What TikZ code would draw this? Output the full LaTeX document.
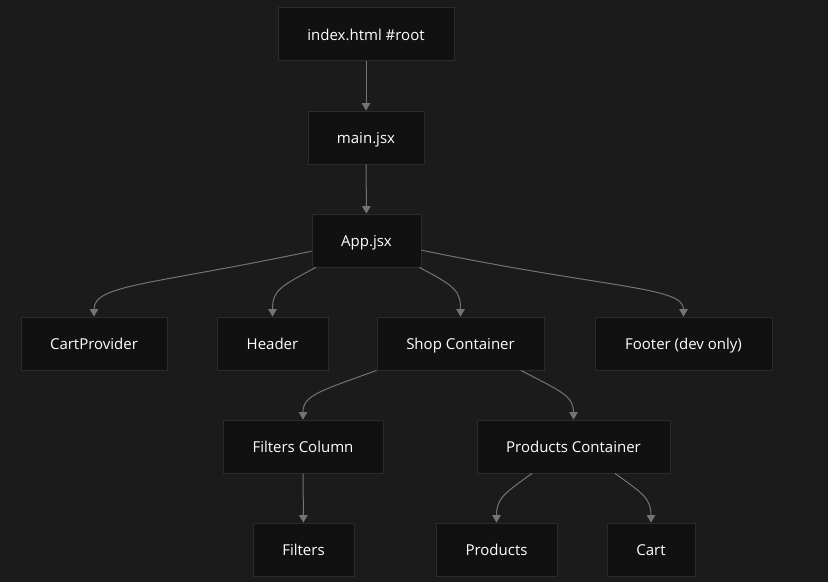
\documentclass[tikz,border=0pt]{standalone}
\usepackage{fontspec}
\setmainfont{Open Sans}
\usetikzlibrary{arrows.meta}
\definecolor{fond}{HTML}{1B1B1B}
\definecolor{remplissage}{HTML}{111111}
\definecolor{bord}{HTML}{2B2B2B}
\definecolor{trait}{HTML}{747474}
\definecolor{texte}{HTML}{FFFFFF}
\begin{document}
\begin{tikzpicture}[x=1pt, y=-1pt]
\tikzset{boite/.style={draw=bord, fill=remplissage, text=texte, line width=0.8pt, minimum height=53pt, inner sep=0pt, text height=14pt, text depth=2pt, font=\fontsize{15}{18}\selectfont}}
\tikzset{fleche/.style={draw=trait, line width=1pt, -{Triangle[width=8.5pt, length=7.5pt]}}}
\fill[fond] (0, 0) rectangle (828, 582);
\node[boite, minimum width=176pt] (Idx) at (366, 34) {index.html \#root};
\node[boite, minimum width=116pt] (Main) at (366, 137.5) {main.jsx};
\node[boite, minimum width=109pt] (App) at (366.5, 240.5) {App.jsx};
\node[boite, minimum width=146pt] (CP) at (94, 343.5) {CartProvider};
\node[boite, minimum width=111pt] (Hdr) at (272.5, 343.5) {Header};
\node[boite, minimum width=167pt] (Shop) at (460.5, 343.5) {Shop Container};
\node[boite, minimum width=177pt] (Ftr) at (683.5, 343.5) {Footer (dev only)};
\node[boite, minimum width=160pt] (FC) at (303, 446.5) {Filters Column};
\node[boite, minimum width=193pt] (PC) at (573.5, 446.5) {Products Container};
\node[boite, minimum width=101pt] (Flt) at (303.5, 549.5) {Filters};
\node[boite, minimum width=121pt] (Prod) at (496.5, 549.5) {Products};
\node[boite, minimum width=88pt] (Cart) at (651, 549.5) {Cart};
\draw[fleche] (Idx) -- (Main);
\draw[fleche] (Main) -- (App);
\draw[fleche] (App.191) .. controls +(-162, 34) and +(0, -32) .. (CP.north);
\draw[fleche] (App.208) .. controls +(-36, 19) and +(0, -26) .. (Hdr.north);
\draw[fleche] (App.333) .. controls +(36, 19) and +(0, -26) .. (Shop.north);
\draw[fleche] (App.350) .. controls +(190, 39) and +(0, -30) .. (Ftr.north);
\draw[fleche] (Shop.south west) .. controls +(-58, 21) and +(0, -24) .. (FC.north);
\draw[fleche] (Shop.336) .. controls +(40, 21) and +(0, -24) .. (PC.north);
\draw[fleche] (FC) -- (Flt);
\draw[fleche] (PC.213) .. controls +(-28, 20) and +(0, -24) .. (Prod.north);
\draw[fleche] (PC.327) .. controls +(28, 20) and +(0, -24) .. (Cart.north);
\end{tikzpicture}
\end{document}
